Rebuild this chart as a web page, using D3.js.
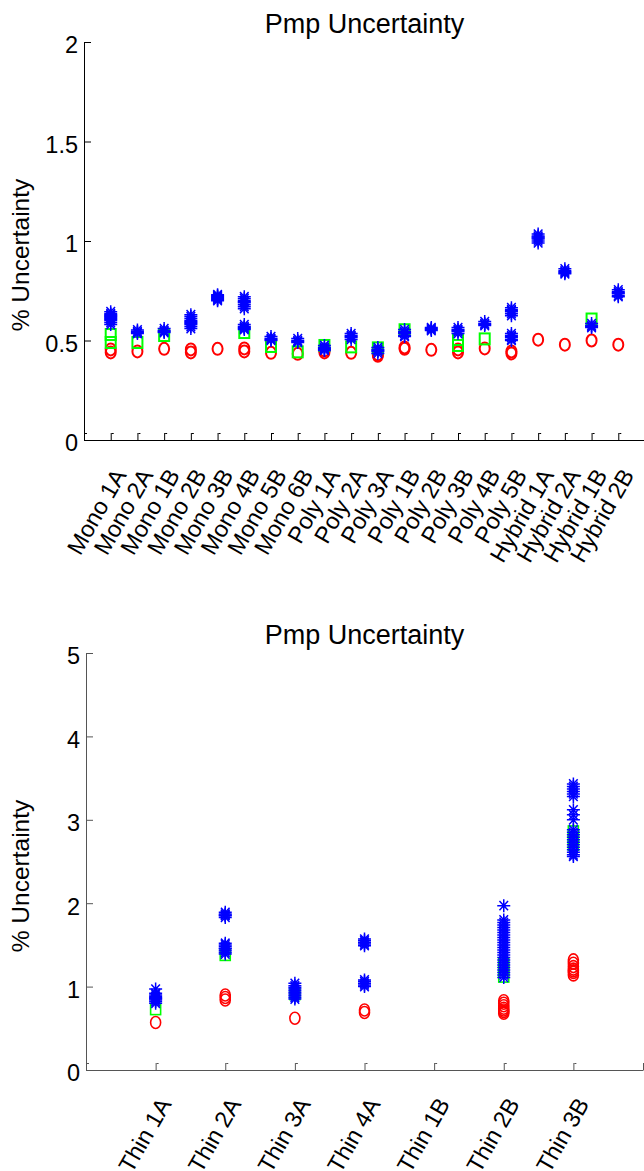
<!DOCTYPE html>
<html>
<head>
<meta charset="utf-8">
<script src="https://cdn.jsdelivr.net/npm/d3@7"></script>
<style>
body { margin: 0; background: #fff; }
text { font-family: Arial, "Liberation Sans", sans-serif; fill: #000; }
</style>
</head>
<body>
<script>
// ---- top panel data ----
const topCategories = ["Mono 1A", "Mono 2A", "Mono 1B", "Mono 2B", "Mono 3B", "Mono 4B", "Mono 5B", "Mono 6B",
    "Poly 1A", "Poly 2A", "Poly 3A", "Poly 1B", "Poly 2B", "Poly 3B", "Poly 4B", "Poly 5B",
    "Hybrid 1A", "Hybrid 2A", "Hybrid 1B", "Hybrid 2B"];
const topYTicks = [0, 0.5, 1, 1.5, 2];
const topRed = [
    [0.44, 0.455], [0.445], [0.458], [0.44, 0.455], [0.458], [0.445, 0.46], [0.438], [0.433],
    [0.44, 0.45], [0.438], [0.423, 0.43], [0.458, 0.465], [0.453], [0.44, 0.455], [0.46], [0.435, 0.445],
    [0.504], [0.479], [0.50], [0.479]
];
const topGreen = [
    [0.53, 0.49], [0.49], [0.525], [], [], [0.54], [0.47], [0.443],
    [0.475], [0.468], [0.463], [0.554], [], [0.505, 0.475], [0.508], [],
    [], [], [0.608], []
];
const topBlue = [
    [0.645, 0.635, 0.63, 0.625, 0.62, 0.615, 0.61, 0.605, 0.60, 0.59, 0.58],
    [0.553, 0.545, 0.54, 0.535],
    [0.56, 0.55, 0.545, 0.54],
    [0.63, 0.62, 0.61, 0.60, 0.595, 0.59, 0.585, 0.58, 0.57, 0.56],
    [0.73, 0.725, 0.72, 0.715, 0.71, 0.705, 0.70],
    [0.72, 0.71, 0.70, 0.695, 0.69, 0.68, 0.67, 0.66, 0.58, 0.57, 0.565, 0.56, 0.555],
    [0.52, 0.51, 0.505, 0.50],
    [0.51, 0.50, 0.495, 0.49],
    [0.475, 0.465, 0.46, 0.455, 0.45],
    [0.535, 0.525, 0.52, 0.515, 0.505],
    [0.465, 0.455, 0.45, 0.445, 0.435],
    [0.555, 0.545, 0.54, 0.535, 0.525, 0.52],
    [0.565, 0.56, 0.555, 0.55],
    [0.565, 0.555, 0.55, 0.545, 0.535],
    [0.595, 0.585, 0.58, 0.575],
    [0.665, 0.655, 0.65, 0.645, 0.635, 0.625, 0.535, 0.525, 0.52, 0.515, 0.505, 0.50],
    [1.035, 1.025, 1.02, 1.015, 1.01, 1.0, 0.99],
    [0.86, 0.85, 0.845, 0.84, 0.835],
    [0.585, 0.575, 0.57, 0.565],
    [0.755, 0.745, 0.74, 0.735, 0.725, 0.72]
];

// ---- bottom panel data ----
const bottomCategories = ["Thin 1A", "Thin 2A", "Thin 3A", "Thin 4A", "Thin 1B", "Thin 2B", "Thin 3B"];
const bottomYTicks = [0, 1, 2, 3, 4, 5];
const bottomRed = [
    [0.57], [0.84, 0.87, 0.90], [0.62], [0.69, 0.72], [],
    [0.68, 0.70, 0.72, 0.74, 0.77, 0.80, 0.83],
    [1.14, 1.17, 1.19, 1.21, 1.24, 1.28, 1.32]
];
const bottomGreen = [
    [0.73], [1.38], [0.91], [], [], [1.28, 1.20, 1.12], [2.86, 2.78, 2.70]
];
const bottomBlue = [
    [0.97, 0.92, 0.90, 0.88, 0.87, 0.86, 0.85, 0.84, 0.82, 0.80],
    [1.89, 1.87, 1.86, 1.85, 1.83, 1.52, 1.50, 1.48, 1.46, 1.45, 1.43, 1.41, 1.39],
    [1.04, 1.01, 0.99, 0.97, 0.95, 0.93, 0.91, 0.89, 0.87, 0.85],
    [1.57, 1.55, 1.53, 1.51, 1.49, 1.08, 1.06, 1.04, 1.02, 1.00],
    [],
    [1.97, 1.80, 1.77, 1.74, 1.71, 1.68, 1.65, 1.62, 1.59, 1.56, 1.53, 1.50, 1.47, 1.44, 1.41,
        1.38, 1.35, 1.32, 1.29, 1.26, 1.23, 1.20, 1.17, 1.14, 1.11],
    [3.43, 3.40, 3.37, 3.34, 3.31, 3.28, 3.12, 3.06, 3.00, 2.88, 2.85, 2.82, 2.79, 2.76, 2.73,
        2.70, 2.67, 2.64, 2.61, 2.58, 2.56]
];

const width = 644;
const height = 1171;
const starPath = "M-6.5,0H6.5M0,-6.5V6.5M-4.3,-4.6L4.3,4.6M-4.3,4.6L4.3,-4.6";

const svg = d3.select("body").append("svg")
    .attr("width", width)
    .attr("height", height);

function drawPanel(cfg) {
    const n = cfg.categories.length;
    const x = d3.scaleLinear().domain([0, n + 1]).range(cfg.xRange);
    const y = d3.scaleLinear().domain([0, cfg.yMax]).range(cfg.yRange);
    const g = svg.append("g");

    // AXES
    const xAxis = d3.axisBottom(x)
        .tickValues(d3.range(0, n + 2))
        .tickSizeInner(-7).tickSizeOuter(0).tickPadding(0)
        .tickFormat(i => cfg.categories[i - 1] || "");
    const gx = g.append("g")
        .attr("transform", `translate(0,${cfg.yRange[0]})`)
        .call(xAxis)
        .attr("font-size", 23.5).attr("font-family", null);
    gx.selectAll(".tick text")
        .attr("text-anchor", "end")
        .attr("y", 0).attr("dy", 0)
        .attr("transform", `translate(${cfg.labelDx},${cfg.labelDy}) rotate(-60)`);
    gx.selectAll(".tick").append("line")
        .attr("x1", 0.5).attr("x2", 2.5).attr("y1", -6.5).attr("y2", -6.5)
        .attr("stroke", cfg.axisColor);

    const yAxis = d3.axisLeft(y)
        .tickValues(cfg.yTicks)
        .tickSizeInner(-7).tickSizeOuter(0).tickPadding(6)
        .tickFormat(d => String(d));
    const gy = g.append("g")
        .attr("transform", `translate(${cfg.xRange[0]},0)`)
        .call(yAxis)
        .attr("font-size", 23.5).attr("font-family", null);
    gy.selectAll(".tick text").attr("dy", "0.46em");

    [gx, gy].forEach(a => {
        a.selectAll("path.domain").attr("stroke", cfg.axisColor);
        a.selectAll(".tick line").attr("stroke", cfg.axisColor);
    });

    // MARKERS: red circles, green squares, blue stars
    cfg.red.forEach((vals, i) => {
        g.selectAll(null).data(vals).enter().append("ellipse")
            .attr("cx", x(i + 1)).attr("cy", d => y(d))
            .attr("rx", 5).attr("ry", 6)
            .attr("fill", "none").attr("stroke", "#ff0000").attr("stroke-width", cfg.sw);
    });
    cfg.green.forEach((vals, i) => {
        g.selectAll(null).data(vals).enter().append("rect")
            .attr("x", x(i + 1) - 5).attr("y", d => y(d) - 5.5)
            .attr("width", 10).attr("height", 11)
            .attr("fill", "none").attr("stroke", "#00ff00").attr("stroke-width", cfg.sw);
    });
    cfg.blue.forEach((vals, i) => {
        g.selectAll(null).data(vals).enter().append("path")
            .attr("d", starPath)
            .attr("transform", d => `translate(${x(i + 1)},${y(d)})`)
            .attr("fill", "none").attr("stroke", "#0000ff").attr("stroke-width", 1.5);
    });

    // TEXT
    g.append("text")
        .attr("x", (cfg.xRange[0] + cfg.xRange[1]) / 2)
        .attr("y", cfg.titleY)
        .attr("text-anchor", "middle")
        .attr("font-size", 27)
        .text("Pmp Uncertainty");
    g.append("text")
        .attr("transform", `translate(29,${cfg.ylabelY}) rotate(-90)`)
        .attr("text-anchor", "middle")
        .attr("font-size", 24.5)
        .text("% Uncertainty");
}

drawPanel({
    categories: topCategories, red: topRed, green: topGreen, blue: topBlue,
    yTicks: topYTicks, yMax: 2,
    xRange: [84, 645], yRange: [440, 42],
    labelDx: 16, labelDy: 35, axisColor: "#000", sw: 2,
    titleY: 33, ylabelY: 255
});

drawPanel({
    categories: bottomCategories, red: bottomRed, green: bottomGreen, blue: bottomBlue,
    yTicks: bottomYTicks, yMax: 5,
    xRange: [86, 643], yRange: [1070, 653],
    labelDx: 16, labelDy: 34, axisColor: "#555", sw: 1.6,
    titleY: 644, ylabelY: 876
});
</script>
</body>
</html>
